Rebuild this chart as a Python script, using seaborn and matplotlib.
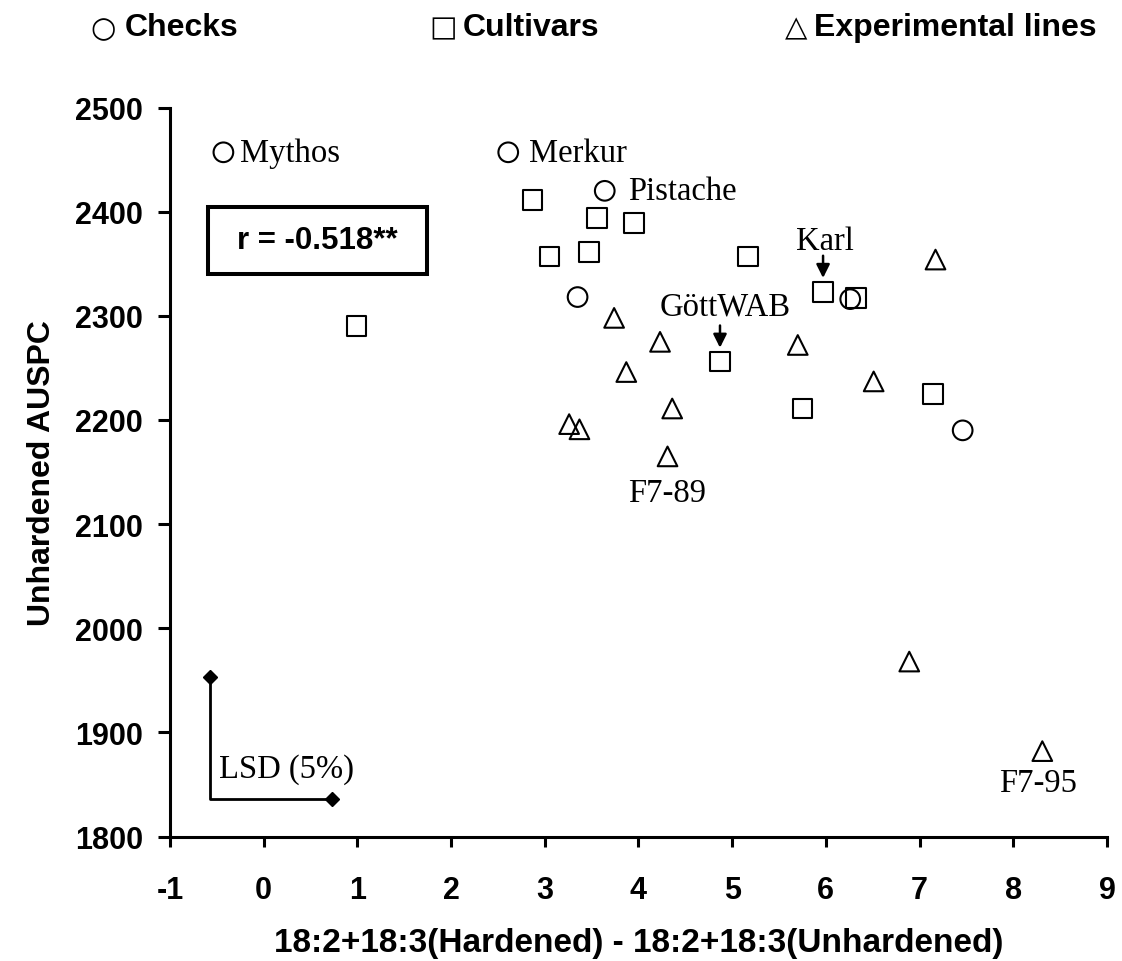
import numpy as np
import pandas as pd
import matplotlib
matplotlib.use('Agg')
import matplotlib.pyplot as plt
from matplotlib.patches import Rectangle
import seaborn as sns

# --- data ---
checks_x = [-0.43, 2.61, 3.64, 3.35, 6.26, 7.46]
checks_y = [2457, 2457, 2420, 2318, 2316, 2190]

cultivars_x = [2.87, 3.56, 3.95, 3.05, 3.47, 5.17, 5.97, 6.32, 4.87, 5.75, 7.14, 0.99]
cultivars_y = [2411, 2394, 2389, 2357, 2361, 2357, 2323, 2317, 2256, 2211, 2225, 2290]

exp_x = [3.74, 4.23, 3.87, 4.36, 3.26, 3.37, 4.31, 5.70, 6.51, 7.17, 6.89, 8.31]
exp_y = [2298, 2275, 2246, 2211, 2196, 2191, 2165, 2272, 2237, 2354, 1968, 1882]

groups = ['Checks', 'Cultivars', 'Experimental lines']
legend_symbols = ['\u25cb', '\u25a1', '\u25b3']

x_ticks = list(range(-1, 10))
y_ticks = list(range(1800, 2501, 100))

r_text = 'r = -0.518**'

# LSD (5%) bars: corner and lengths
lsd_x0, lsd_y0 = -0.57, 1836
lsd_dx, lsd_dy = 1.30, 117

df = pd.DataFrame({
    'x': cultivars_x + checks_x + exp_x,
    'y': cultivars_y + checks_y + exp_y,
    'group': ['Cultivars'] * len(cultivars_x) + ['Checks'] * len(checks_x)
             + ['Experimental lines'] * len(exp_x),
})

sns.set_style('ticks', rc={'text.color': 'black', 'axes.labelcolor': 'black',
                           'xtick.color': 'black', 'ytick.color': 'black',
                           'axes.edgecolor': 'black'})
plt.rcParams['font.family'] = ['Liberation Sans', 'DejaVu Sans']
plt.rcParams['axes.unicode_minus'] = False

fig = plt.figure(figsize=(11.22, 9.62), dpi=100)
ax = fig.add_axes([0.1515, 0.1294, 0.8351, 0.7578])

sns.scatterplot(
    data=df, x='x', y='y', style='group',
    markers={'Checks': 'o', 'Cultivars': 's', 'Experimental lines': '^'},
    s=200, color='black', facecolor='none', edgecolor='black',
    linewidth=1.5, legend=False, ax=ax, zorder=3
)

ax.set_xlim(-1, 9)
ax.set_ylim(1800, 2500)
ax.set_xticks(x_ticks)
ax.set_yticks(y_ticks)
ax.tick_params(direction='out', width=2.2, labelsize=22)
ax.tick_params(axis='x', length=7, pad=21)
ax.tick_params(axis='y', length=8.6, pad=11)
for lab in ax.get_xticklabels() + ax.get_yticklabels():
    lab.set_fontweight('bold')
sns.despine(ax=ax)
for side in ['left', 'bottom']:
    ax.spines[side].set_linewidth(2.2)

ax.set_xlabel('18:2+18:3(Hardened) - 18:2+18:3(Unhardened)',
              fontsize=24, fontweight='bold', va='center')
ax.xaxis.set_label_coords(0.5, -0.146)
ax.set_ylabel('Unhardened AUSPC', fontsize=23, fontweight='bold', va='center')
ax.yaxis.set_label_coords(-0.137, 0.5)

# labels next to points
serif = 'Liberation Serif'
fs_lab = 23.5
side_labels = [('Mythos', checks_x[0], checks_y[0], 12),
               ('Merkur', checks_x[1], checks_y[1], 15),
               ('Pistache', checks_x[2], checks_y[2], 17)]
for name, px, py, dx in side_labels:
    ax.annotate(name, (px, py), xytext=(dx, 0), textcoords='offset points',
                ha='left', va='center', fontsize=fs_lab, family=serif)

below_labels = [('F7-89', exp_x[6], exp_y[6], 0, -26),
                ('F7-95', exp_x[11], exp_y[11], -3, -23)]
for name, px, py, dx, dy in below_labels:
    ax.annotate(name, (px, py), xytext=(dx, dy), textcoords='offset points',
                ha='center', va='center', fontsize=fs_lab, family=serif)

arrow_labels = [('Karl', cultivars_x[6], cultivars_y[6], 1, 37),
                ('G\u00f6ttWAB', cultivars_x[8], cultivars_y[8], 4, 40)]
for name, px, py, dx, dy in arrow_labels:
    ax.annotate(name, (px, py), xytext=(dx, dy), textcoords='offset points',
                ha='center', va='center', fontsize=fs_lab, family=serif)
    ax.annotate('', (px, py), xytext=(0, 26), textcoords='offset points',
                arrowprops=dict(arrowstyle='-|>,head_length=0.4,head_width=0.2',
                                color='black', lw=1.8, shrinkA=0, shrinkB=10,
                                mutation_scale=20))

# LSD indicator
ax.plot([lsd_x0, lsd_x0, lsd_x0 + lsd_dx], [lsd_y0 + lsd_dy, lsd_y0, lsd_y0],
        color='black', lw=2, clip_on=False)
ax.plot([lsd_x0, lsd_x0 + lsd_dx], [lsd_y0 + lsd_dy, lsd_y0], ls='none',
        marker='D', ms=7, color='black', clip_on=False)
ax.annotate('LSD (5%)', (lsd_x0, lsd_y0), xytext=(6, 22), textcoords='offset points',
            ha='left', va='center', fontsize=fs_lab, family=serif)

# correlation box
ax.add_patch(Rectangle((0.0406, 0.7716), 0.2337, 0.0919, transform=ax.transAxes,
                       fc='white', ec='black', lw=2.9, zorder=4))
ax.text(0.1574, 0.8176, r_text, transform=ax.transAxes, ha='center', va='center',
        fontsize=22.5, fontweight='bold', zorder=5)

# legend row at top
sym_x = [0.081, 0.383, 0.700]
lab_x = [0.1114, 0.412, 0.7255]
for sym, lab, sx, lx in zip(legend_symbols, groups, sym_x, lab_x):
    fig.text(sx, 0.970, sym, ha='left', va='center', fontsize=21, family='DejaVu Sans')
    fig.text(lx, 0.971, lab, ha='left', va='center', fontsize=23, fontweight='bold')

fig.savefig('out.png', dpi=100)
